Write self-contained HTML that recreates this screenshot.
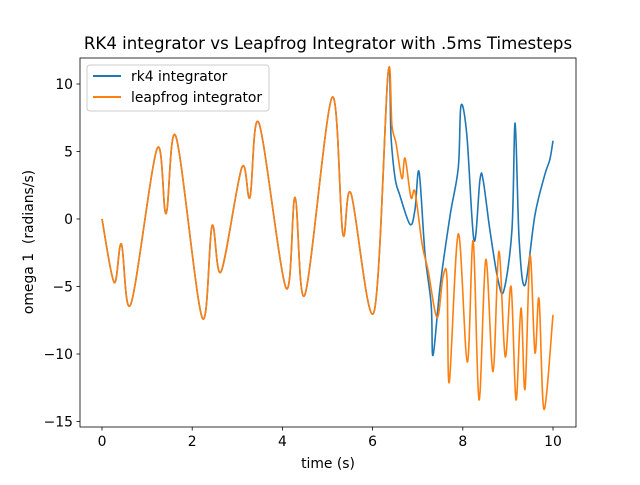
<!DOCTYPE html>
<html><head><meta charset="utf-8"><style>
body{margin:0;background:#fff;font-family:"Liberation Sans","DejaVu Sans",sans-serif}
svg text{font-family:"DejaVu Sans","Liberation Sans",sans-serif;white-space:pre}
</style></head><body>
<svg id="chart" width="640" height="480" xmlns="http://www.w3.org/2000/svg">
<rect width="640" height="480" fill="#fff"/>
<text x="328" y="49" font-size="16.6" text-anchor="middle">RK4 integrator vs Leapfrog Integrator with .5ms Timesteps</text>
<g id="grid"></g>
<g id="series"></g>
<rect x="80" y="58" width="496" height="369" fill="none" stroke="#000" stroke-width="0.8"/>
<text x="328" y="468" font-size="13.9" text-anchor="middle">time (s)</text>
<text xml:space="preserve" transform="translate(33,242) rotate(-90)" font-size="13.9" text-anchor="middle">omega 1  (radians/s)</text>
<g>
<rect x="87" y="65" width="182" height="46" rx="3" fill="#fff" fill-opacity="0.8" stroke="#ccc"/>
<line x1="93" y1="76" x2="121" y2="76" stroke="#1f77b4" stroke-width="2"/>
<text x="131" y="81" font-size="13.9">rk4 integrator</text>
<line x1="93" y1="97" x2="121" y2="97" stroke="#ff7f0e" stroke-width="2"/>
<text x="131" y="102" font-size="13.9">leapfrog integrator</text>
</g>
</svg>
<script>
const xTicks=[0,2,4,6,8,10];
const yTicks=[10,5,0,-5,-10,-15];
const sharedT=[0,0.27,0.43,0.64,1.22,1.42,1.64,2.22,2.44,2.64,3.1,3.28,3.48,4.08,4.28,4.5,5.1,5.34,5.52,6.03,6.34];
const sharedV=[0,-4.7,-1.85,-6.3,5.2,0.4,6.1,-7.3,-0.5,-3.9,3.8,1.6,7.1,-5.1,1.6,-5.6,9.0,-1.1,1.9,-6.9,10.7];
const rk4T=[6.41,6.5,6.6,6.83,6.94,7.03,7.16,7.3,7.34,7.5,7.72,7.9,7.96,8.09,8.25,8.38,8.45,8.6,8.78,8.91,9.09,9.16,9.25,9.38,9.6,9.82,9.93,10];
const rk4V=[6.0,3.0,1.8,-0.4,0.7,3.5,-2.5,-6.4,-10.1,-4.9,0.3,3.8,8.4,6.2,-1.6,2.9,2.9,-0.8,-4.5,-5.3,-0.8,7.1,-1.6,-4.9,0.3,3.3,4.4,5.8];
const lfT=[6.43,6.52,6.65,6.72,6.85,6.94,7.1,7.23,7.43,7.56,7.65,7.7,7.9,8.1,8.23,8.36,8.51,8.67,8.8,8.94,9.07,9.18,9.29,9.38,9.49,9.6,9.69,9.8,10];
const lfV=[6.9,5.6,3.0,4.5,1.6,2.0,-1.9,-3.8,-7.3,-4.3,-4.4,-12.1,-1.1,-10.6,-1.6,-13.4,-3.0,-11.3,-2.4,-10.2,-5.0,-13.4,-6.6,-12.6,-2.7,-9.9,-5.9,-14.1,-7.1];
const NS='http://www.w3.org/2000/svg';
const sx=t=>102+t*45.1;
const sy=v=>219-v*13.5;
const grid=document.getElementById('grid');
xTicks.forEach(t=>{
 const l=document.createElementNS(NS,'line');
 
 
 l.setAttribute('x1',sx(t));l.setAttribute('x2',sx(t));l.setAttribute('y1',427);l.setAttribute('y2',430.5);l.setAttribute('stroke','#000');l.setAttribute('stroke-width','0.8');
 grid.appendChild(l);
 const tx=document.createElementNS(NS,'text');
 
 
 tx.setAttribute('x',sx(t));tx.setAttribute('y',446);tx.setAttribute('font-size','13.9');tx.setAttribute('text-anchor','middle');
 tx.textContent=t;grid.appendChild(tx);
});
yTicks.forEach(v=>{
 const l=document.createElementNS(NS,'line');
 
 
 l.setAttribute('x1',76.5);l.setAttribute('x2',80);l.setAttribute('y1',sy(v));l.setAttribute('y2',sy(v));l.setAttribute('stroke','#000');l.setAttribute('stroke-width','0.8');
 grid.appendChild(l);
 const tx=document.createElementNS(NS,'text');
 
 
 tx.setAttribute('x',73);tx.setAttribute('y',sy(v)+5);tx.setAttribute('font-size','13.9');tx.setAttribute('text-anchor','end');
 tx.textContent=v<0?'\u2212'+(-v):v;grid.appendChild(tx);
});
function pathFor(T,V){
 const p=T.map((t,i)=>[sx(t),sy(V[i])]);
 let d='M'+p[0][0]+','+p[0][1];
 for(let i=0;i<p.length-1;i++){
  const p0=p[i-1]||p[i],p1=p[i],p2=p[i+1],p3=p[i+2]||p[i+1];
  const c1=[p1[0]+(p2[0]-p0[0])/6,p1[1]+(p2[1]-p0[1])/6];
  const c2=[p2[0]-(p3[0]-p1[0])/6,p2[1]-(p3[1]-p1[1])/6];
  d+=' C'+c1+' '+c2+' '+p2;
 }
 return d;
}
const g=document.getElementById('series');
const b=document.createElementNS(NS,'path');


b.setAttribute('d',pathFor(sharedT.concat(rk4T),sharedV.concat(rk4V)));
b.setAttribute('fill','none');b.setAttribute('stroke','#1f77b4');b.setAttribute('stroke-width','1.6');
g.appendChild(b);
const o=document.createElementNS(NS,'path');


o.setAttribute('d',pathFor(sharedT.concat(lfT),sharedV.concat(lfV)));
o.setAttribute('fill','none');o.setAttribute('stroke','#ff7f0e');o.setAttribute('stroke-width','1.6');
g.appendChild(o);
</script>
</body></html>
